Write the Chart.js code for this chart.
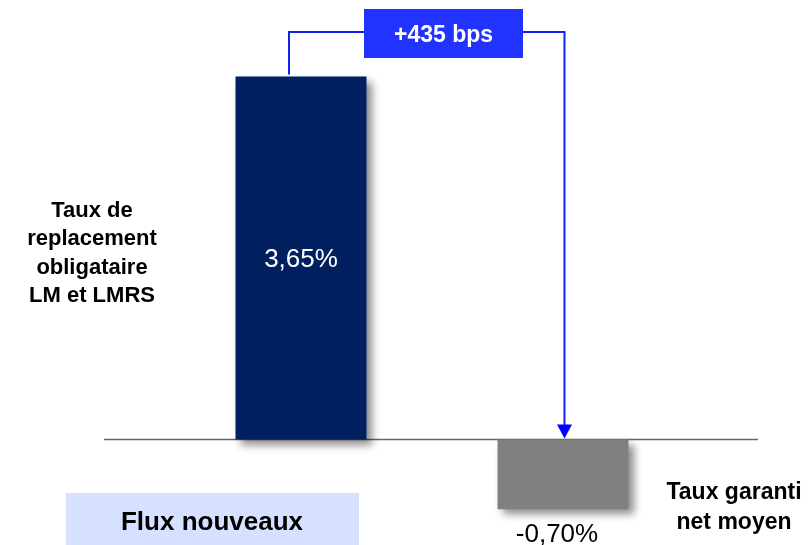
<!DOCTYPE html>
<html lang="fr">
<head>
<meta charset="UTF-8">
<title>Flux nouveaux</title>
<script src="https://cdn.jsdelivr.net/npm/chart.js@4"></script>
<style>
  html, body { margin: 0; padding: 0; background: #fff; overflow: hidden; }
</style>
</head>
<body>
<canvas id="gapChart" width="809" height="545"></canvas>
<script>
// data
const categories = [
  ['Taux de', 'replacement', 'obligataire', 'LM et LMRS'],
  ['Taux garanti', 'net moyen']
];
const rates = [3.65, -0.70];
const rateLabels = ['3,65%', '-0,70%'];
const barColors = ['#002060', '#808080'];
const groupLabel = 'Flux nouveaux';

const gapBps = Math.round((rates[0] - rates[1]) * 100);
const gapLabel = '+' + gapBps + ' bps';

const FONT = '"Liberation Sans", Arial, sans-serif';

// soft shadow behind the bars
const barShadow = {
  id: 'barShadow',
  beforeDatasetsDraw(chart) {
    const c = chart.ctx;
    c.save();
    c.shadowColor = 'rgba(0,0,0,0.45)';
    c.shadowBlur = 8;
    c.shadowOffsetX = 5;
    c.shadowOffsetY = 5;
  },
  afterDatasetsDraw(chart) {
    chart.ctx.restore();
  }
};

const decorations = {
  id: 'decorations',
  beforeDatasetsDraw(chart) {
    const c = chart.ctx;
    const y0 = chart.scales.y.getPixelForValue(0);
    // baseline
    c.save();
    c.strokeStyle = '#666';
    c.lineWidth = 1.5;
    c.beginPath();
    c.moveTo(104, y0);
    c.lineTo(758, y0);
    c.stroke();
    c.restore();
  },
  afterDraw(chart) {
    const c = chart.ctx;
    const bars = chart.getDatasetMeta(0).data;
    const b0 = bars[0], b1 = bars[1];
    const y0 = chart.scales.y.getPixelForValue(0);

    c.save();
    // category labels
    c.fillStyle = '#000';
    c.textAlign = 'center';
    c.textBaseline = 'alphabetic';
    c.font = 'bold 22px ' + FONT;
    categories[0].forEach((t, i) => c.fillText(t, 92, 217 + i * 28.3));
    c.font = 'bold 23px ' + FONT;
    categories[1].forEach((t, i) => c.fillText(t, 734, 499 + i * 30));

    // value labels
    c.font = '26px ' + FONT;
    c.fillStyle = '#fff';
    c.fillText(rateLabels[0], b0.x, 267);
    c.fillStyle = '#000';
    c.fillText(rateLabels[1], b1.x - 6, 542);

    // group label box
    c.fillStyle = '#D6E0FF';
    c.fillRect(66, 493, 293, 52);
    c.fillStyle = '#000';
    c.font = 'bold 26px ' + FONT;
    c.fillText(groupLabel, 212, 530);

    // gap connector
    const lineY = 32;
    const leftX = b0.x - 12;
    const rightX = b1.x + 1.5;
    c.strokeStyle = '#1122EE';
    c.lineWidth = 2;
    c.beginPath();
    c.moveTo(leftX, b0.y - 2);
    c.lineTo(leftX, lineY);
    c.lineTo(rightX, lineY);
    c.lineTo(rightX, y0 - 14);
    c.stroke();
    c.fillStyle = '#0000FF';
    c.beginPath();
    c.moveTo(rightX - 7.5, y0 - 15);
    c.lineTo(rightX + 7.5, y0 - 15);
    c.lineTo(rightX, y0 - 1);
    c.closePath();
    c.fill();

    // gap box
    c.fillStyle = '#2233FF';
    c.fillRect(364, 9, 159, 49);
    c.fillStyle = '#fff';
    c.font = 'bold 23px ' + FONT;
    c.fillText(gapLabel, 443.5, 41.5);
    c.restore();
  }
};

new Chart(document.getElementById('gapChart'), {
  type: 'bar',
  data: {
    labels: categories.map(l => l.join(' ')),
    datasets: [{
      data: rates,
      backgroundColor: barColors,
      borderWidth: 0,
      categoryPercentage: 1,
      barPercentage: 0.5
    }]
  },
  options: {
    responsive: false,
    animation: false,
    events: [],
    layout: { padding: { left: 170, right: 115, top: 2, bottom: 6 } },
    scales: {
      x: { display: false },
      y: { display: false, min: -1.0, max: 4.4 }
    },
    plugins: {
      legend: { display: false },
      tooltip: { enabled: false }
    }
  },
  plugins: [decorations, barShadow]
});
</script>
</body>
</html>
